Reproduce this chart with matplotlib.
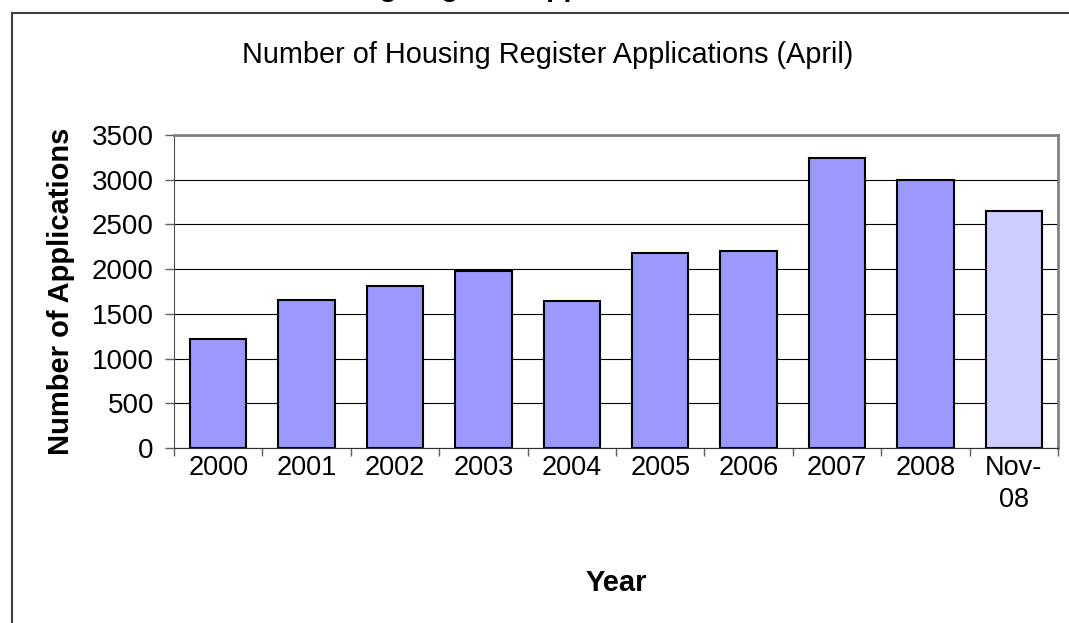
import matplotlib.pyplot as plt
from matplotlib.lines import Line2D

plt.rcParams['font.family'] = ['Liberation Sans', 'DejaVu Sans']

# Datos
years = ['2000', '2001', '2002', '2003', '2004', '2005', '2006', '2007', '2008', 'Nov-\n08']
applications = [1220, 1660, 1810, 1980, 1640, 2180, 2200, 3240, 3000, 2650]
bar_colors = ['#9999FF'] * 9 + ['#CCCCFF']

fig = plt.figure(figsize=(10.69, 6.23), dpi=100)
ax = fig.add_axes([174 / 1069, 175 / 623, 884 / 1069, 313 / 623])

x = range(len(years))
ax.bar(x, applications, width=0.64, color=bar_colors, edgecolor='black',
       linewidth=1.5, zorder=3)

ax.set_xlim(-0.5, len(years) - 0.5)
ax.set_ylim(0, 3500)
ax.set_yticks(range(0, 3501, 500))
ax.yaxis.grid(True, color='black', linewidth=0.8, zorder=0)

# Ticks del eje x entre categorías
ax.set_xticks(list(x))
ax.set_xticklabels(years, fontsize=19.5)
ax.set_xticks([i - 0.5 for i in range(len(years) + 1)], minor=True)
ax.tick_params(axis='x', which='major', length=0, pad=5)
ax.tick_params(axis='x', which='minor', length=6, width=1, color='#606060', direction='out')
ax.tick_params(axis='y', labelsize=20, length=6.5, width=1, color='#606060', direction='out', pad=8)
for lbl in ax.get_xticklabels():
    lbl.set_linespacing(1.3)

for side in ['top', 'right']:
    ax.spines[side].set_color('#808080')
    ax.spines[side].set_linewidth(2)
ax.spines['left'].set_color('#505050')
ax.spines['bottom'].set_color('#303030')

ax.set_ylabel('Number of Applications', fontsize=21, fontweight='bold', labelpad=12)
ax.set_xlabel('Year', fontsize=21, fontweight='bold')
ax.xaxis.set_label_coords(0.5, -0.385)

fig.text(548 / 1069, 1 - 55 / 623, 'Number of Housing Register Applications (April)',
         fontsize=20.8, ha='center', va='center')

# Texto recortado en la parte superior (solo se ven los descendentes)
fig.text(490 / 1069, 1 + 4 / 623, 'Housing Register Applications',
         fontsize=20.5, fontweight='bold', ha='center', va='baseline')

# Marco exterior
fig.add_artist(Line2D([12 / 1069, 12 / 1069], [0, 1 - 13 / 623],
                      transform=fig.transFigure, color='#404040', linewidth=1.5))
fig.add_artist(Line2D([12 / 1069, 1], [1 - 13 / 623, 1 - 13 / 623],
                      transform=fig.transFigure, color='#404040', linewidth=1.5))

fig.savefig('out.png', dpi=100)
